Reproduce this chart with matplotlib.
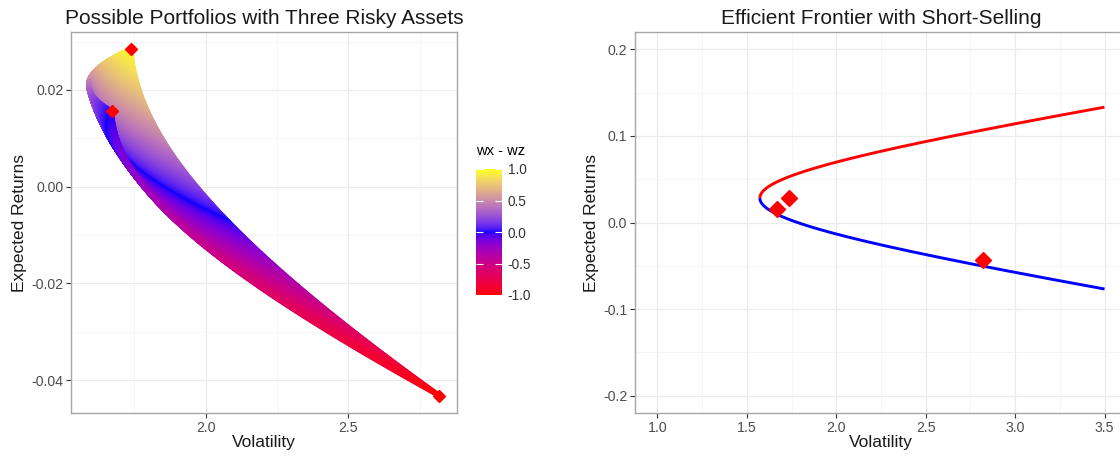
import numpy as np
import matplotlib
matplotlib.use("Agg")
import matplotlib.pyplot as plt
from matplotlib.colors import ListedColormap

# three risky assets (monthly mean return, volatility)
asset_names = ["X", "Y", "Z"]
asset_returns = [0.0284, 0.0156, -0.0432]
asset_vols = [1.737, 1.670, 2.820]
# pairwise correlations xy, xz, yz
asset_corr = [0.746, 0.650, 0.608]

# long-only weight grid for the cloud of portfolios
weight_steps = 301
# colour scale of wx - wz
gradient_colors = ["#FF0000", "#0000FF", "#FFFF00"]
legend_ticks = [1.0, 0.5, 0.0, -0.5, -1.0]

# frontier range
frontier_vol_max = 3.5

plt.rcParams['font.family'] = ['Liberation Sans', 'DejaVu Sans']

mu = np.array(asset_returns)
sd = np.array(asset_vols)
rxy, rxz, ryz = asset_corr
cov = np.array([
    [sd[0]**2, rxy*sd[0]*sd[1], rxz*sd[0]*sd[2]],
    [rxy*sd[0]*sd[1], sd[1]**2, ryz*sd[1]*sd[2]],
    [rxz*sd[0]*sd[2], ryz*sd[1]*sd[2], sd[2]**2],
])


# ggplot-like Lab interpolation for scale_colour_gradientn
def _srgb_to_lab(rgb):
    rgb = np.asarray(rgb, float)
    lin = np.where(rgb <= 0.04045, rgb / 12.92, ((rgb + 0.055) / 1.055) ** 2.4)
    m = np.array([[0.4124, 0.3576, 0.1805],
                  [0.2126, 0.7152, 0.0722],
                  [0.0193, 0.1192, 0.9505]])
    xyz = m @ lin / np.array([0.95047, 1.0, 1.08883])
    d = 6 / 29
    f = np.where(xyz > d**3, np.cbrt(xyz), xyz / (3 * d**2) + 4 / 29)
    return np.array([116 * f[1] - 16, 500 * (f[0] - f[1]), 200 * (f[1] - f[2])])


def _lab_to_srgb(lab):
    L, a, b = lab
    fy = (L + 16) / 116
    fx = fy + a / 500
    fz = fy - b / 200
    d = 6 / 29
    f = np.array([fx, fy, fz])
    xyz = np.where(f > d, f**3, 3 * d**2 * (f - 4 / 29)) * np.array([0.95047, 1.0, 1.08883])
    m = np.array([[3.2406, -1.5372, -0.4986],
                  [-0.9689, 1.8758, 0.0415],
                  [0.0557, -0.2040, 1.0570]])
    lin = np.clip(m @ xyz, 0, 1)
    return np.where(lin <= 0.0031308, 12.92 * lin, 1.055 * lin ** (1 / 2.4) - 0.055).clip(0, 1)


def lab_cmap(hex_colors, n=256):
    labs = [_srgb_to_lab(matplotlib.colors.to_rgb(c)) for c in hex_colors]
    pos = np.linspace(0, 1, len(labs))
    out = []
    for t in np.linspace(0, 1, n):
        k = min(np.searchsorted(pos, t, side='right') - 1, len(labs) - 2)
        u = (t - pos[k]) / (pos[k + 1] - pos[k])
        out.append(_lab_to_srgb(labs[k] * (1 - u) + labs[k + 1] * u))
    return ListedColormap(out)


cmap = lab_cmap(gradient_colors)

# portfolio cloud, drawn in grid order (wy outer, wx inner)
w = np.linspace(0, 1, weight_steps)
wy = np.repeat(w, weight_steps)
wx = np.tile(w, weight_steps)
wz = 1 - wx - wy
keep = wz >= -1e-12
W = np.column_stack([wx[keep], wy[keep], np.clip(wz[keep], 0, None)])
er_p = W @ mu
sd_p = np.sqrt(np.einsum('ni,ij,nj->n', W, cov, W))
col_p = W[:, 0] - W[:, 2]

# efficient frontier with short-selling
inv = np.linalg.inv(cov)
one = np.ones(3)
alpha = one @ inv @ one
beta = one @ inv @ mu
gamma = mu @ inv @ mu
delta = alpha * gamma - beta**2
mu_grid = np.linspace(-0.3, 0.3, 4001)
sd_grid = np.sqrt((alpha * mu_grid**2 - 2 * beta * mu_grid + gamma) / delta)
mu_min = beta / alpha
inside = sd_grid <= frontier_vol_max
upper = inside & (mu_grid >= mu_min)
lower = inside & (mu_grid <= mu_min)

fig = plt.figure(figsize=(11.2, 4.57), dpi=100)
ax1 = fig.add_axes([71/1120, 1 - 413/457, 386/1120, 381/457])
ax2 = fig.add_axes([635/1120, 1 - 413/457, 492/1120, 381/457])
cax = fig.add_axes([476/1120, 1 - 295/457, 26/1120, 126/457])

border = '#A6A6A6'
tick_col = '#4D4D4D'


def style(ax):
    ax.set_facecolor('white')
    for s in ax.spines.values():
        s.set_color(border)
        s.set_linewidth(1.0)
    ax.grid(True, which='major', color='#EBEBEB', linewidth=0.9)
    ax.grid(True, which='minor', color='#F2F2F2', linewidth=0.5)
    ax.set_axisbelow(True)
    ax.tick_params(which='major', length=3.5, width=0.8, color='#333333',
                   labelsize=10.2, labelcolor=tick_col, pad=2)
    ax.tick_params(which='minor', length=0)
    ax.set_xlabel('Volatility', fontsize=12.5, color='#1A1A1A', labelpad=0)
    ax.set_ylabel('Expected Returns', fontsize=12.5, color='#1A1A1A', labelpad=3)


# left panel
ax1.scatter(sd_p, er_p, c=col_p, cmap=cmap, vmin=-1, vmax=1, s=14, linewidths=0, zorder=2)
ax1.plot(asset_vols, asset_returns, linestyle='none', marker='D', ms=6.5,
         color='#FF0000', zorder=3)
allx = np.concatenate([sd_p, sd])
ally = np.concatenate([er_p, mu])
rx = allx.max() - allx.min()
ry = ally.max() - ally.min()
ax1.set_xlim(allx.min() - 0.05 * rx, allx.max() + 0.05 * rx)
ax1.set_ylim(ally.min() - 0.05 * ry, ally.max() + 0.05 * ry)
ax1.set_xticks([2.0, 2.5])
ax1.set_xticks([1.75, 2.25, 2.75], minor=True)
ax1.set_xticklabels(['2.0', '2.5'])
ax1.set_yticks([-0.04, -0.02, 0.0, 0.02])
ax1.set_yticks([-0.03, -0.01, 0.01, 0.03], minor=True)
ax1.set_yticklabels(['-0.04', '-0.02', '0.00', '0.02'])
style(ax1)
ax1.set_title('Possible Portfolios with Three Risky Assets', fontsize=15, color='#1A1A1A', pad=6)

# colour bar legend
cb = fig.colorbar(matplotlib.cm.ScalarMappable(norm=matplotlib.colors.Normalize(-1, 1), cmap=cmap),
                  cax=cax)
cb.outline.set_visible(False)
cb.set_ticks(legend_ticks)
cb.set_ticklabels(['%.1f' % v for v in legend_ticks])
cax.tick_params(axis='y', direction='in', color='white', length=5, width=0.8,
                labelsize=9.8, labelcolor='#333333', pad=4, left=True, right=True)
cax.set_title('wx - wz', fontsize=10.5, color='black', loc='left', pad=10)

# right panel
ax2.plot(sd_grid[upper], mu_grid[upper], color='#FF0000', lw=2.1, zorder=2, solid_capstyle='butt')
ax2.plot(sd_grid[lower], mu_grid[lower], color='#0000FF', lw=2.1, zorder=2, solid_capstyle='butt')
ax2.plot(asset_vols, asset_returns, linestyle='none', marker='D', ms=8,
         color='#FF0000', zorder=3)
ax2.set_xlim(1.0 - 0.125, 3.5 + 0.125)
ax2.set_ylim(-0.22, 0.22)
ax2.set_xticks([1.0, 1.5, 2.0, 2.5, 3.0, 3.5])
ax2.set_xticks([1.25, 1.75, 2.25, 2.75, 3.25], minor=True)
ax2.set_xticklabels(['1.0', '1.5', '2.0', '2.5', '3.0', '3.5'])
ax2.set_yticks([-0.2, -0.1, 0.0, 0.1, 0.2])
ax2.set_yticks([-0.15, -0.05, 0.05, 0.15], minor=True)
ax2.set_yticklabels(['-0.2', '-0.1', '0.0', '0.1', '0.2'])
style(ax2)
ax2.set_title('Efficient Frontier with Short-Selling', fontsize=15, color='#1A1A1A', pad=6)

fig.savefig('out.png', dpi=100)
